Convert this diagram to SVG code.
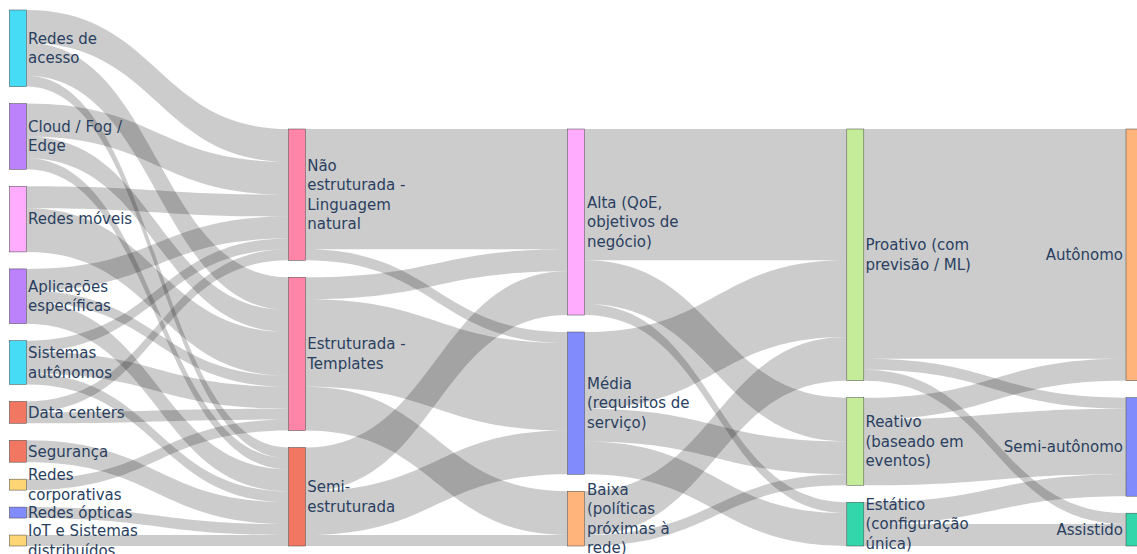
<svg xmlns="http://www.w3.org/2000/svg" width="1137" height="554" viewBox="0 0 1137 554">
  <style>
    .link { fill: rgba(0,0,0,0.2); }
    .node rect { stroke: #444; stroke-width: 0.5; fill-opacity: 0.8; }
    .node text { font-family: "DejaVu Sans", Verdana, sans-serif; font-size: 15px; fill: #2a3f5f; }
    .end text { text-anchor: end; }
    .c-cyan { fill: #19d3f3; }
    .c-purple { fill: #ab63fa; }
    .c-lpink { fill: #FF97FF; }
    .c-red { fill: #EF553B; }
    .c-yellow { fill: #FECB52; }
    .c-blue { fill: #636efa; }
    .c-pink { fill: #FF6692; }
    .c-orange { fill: #FFA15A; }
    .c-green { fill: #B6E880; }
    .c-teal { fill: #00cc96; }
  </style>
  <rect width="1137" height="554" fill="#ffffff"/>

  <g id="links">
    <!-- domain -> intent expression -->
    <path class="link" d="M26.4,10C157.45,10 157.45,129 288.5,129L288.5,161.83C157.45,161.83 157.45,42.83 26.4,42.83Z"/>
    <path class="link" d="M26.4,42.83C157.45,42.83 157.45,277.31 288.5,277.31L288.5,310.14C157.45,310.14 157.45,75.66 26.4,75.66Z"/>
    <path class="link" d="M26.4,75.66C157.45,75.66 157.45,447.51 288.5,447.51L288.5,458.46C157.45,458.46 157.45,86.6 26.4,86.6Z"/>
    <path class="link" d="M26.4,103.6C157.45,103.6 157.45,161.83 288.5,161.83L288.5,194.66C157.45,194.66 157.45,136.43 26.4,136.43Z"/>
    <path class="link" d="M26.4,136.43C157.45,136.43 157.45,310.14 288.5,310.14L288.5,332.03C157.45,332.03 157.45,158.31 26.4,158.31Z"/>
    <path class="link" d="M26.4,158.31C157.45,158.31 157.45,458.46 288.5,458.46L288.5,469.4C157.45,469.4 157.45,169.26 26.4,169.26Z"/>
    <path class="link" d="M26.4,186.26C157.45,186.26 157.45,194.66 288.5,194.66L288.5,216.54C157.45,216.54 157.45,208.14 26.4,208.14Z"/>
    <path class="link" d="M26.4,208.14C157.45,208.14 157.45,332.03 288.5,332.03L288.5,375.8C157.45,375.8 157.45,251.91 26.4,251.91Z"/>
    <path class="link" d="M26.4,268.91C157.45,268.91 157.45,216.54 288.5,216.54L288.5,238.43C157.45,238.43 157.45,290.8 26.4,290.8Z"/>
    <path class="link" d="M26.4,290.8C157.45,290.8 157.45,375.8 288.5,375.8L288.5,386.74C157.45,386.74 157.45,301.74 26.4,301.74Z"/>
    <path class="link" d="M26.4,301.74C157.45,301.74 157.45,469.4 288.5,469.4L288.5,491.29C157.45,491.29 157.45,323.63 26.4,323.63Z"/>
    <path class="link" d="M26.4,340.63C157.45,340.63 157.45,238.43 288.5,238.43L288.5,249.37C157.45,249.37 157.45,351.57 26.4,351.57Z"/>
    <path class="link" d="M26.4,351.57C157.45,351.57 157.45,386.74 288.5,386.74L288.5,408.63C157.45,408.63 157.45,373.46 26.4,373.46Z"/>
    <path class="link" d="M26.4,373.46C157.45,373.46 157.45,491.29 288.5,491.29L288.5,502.23C157.45,502.23 157.45,384.4 26.4,384.4Z"/>
    <path class="link" d="M26.4,401.4C157.45,401.4 157.45,249.37 288.5,249.37L288.5,260.31C157.45,260.31 157.45,412.34 26.4,412.34Z"/>
    <path class="link" d="M26.4,412.34C157.45,412.34 157.45,408.63 288.5,408.63L288.5,419.57C157.45,419.57 157.45,423.29 26.4,423.29Z"/>
    <path class="link" d="M26.4,440.29C157.45,440.29 157.45,502.23 288.5,502.23L288.5,524.11C157.45,524.11 157.45,462.17 26.4,462.17Z"/>
    <path class="link" d="M26.4,479.17C157.45,479.17 157.45,419.57 288.5,419.57L288.5,430.51C157.45,430.51 157.45,490.11 26.4,490.11Z"/>
    <path class="link" d="M26.4,507.11C157.45,507.11 157.45,524.11 288.5,524.11L288.5,535.06C157.45,535.06 157.45,518.06 26.4,518.06Z"/>
    <path class="link" d="M26.4,535.06C157.45,535.06 157.45,535.06 288.5,535.06L288.5,546C157.45,546 157.45,546 26.4,546Z"/>
    <!-- intent expression -> abstraction level -->
    <path class="link" d="M305.5,129C436.55,129 436.55,129 567.6,129L567.6,249.37C436.55,249.37 436.55,249.37 305.5,249.37Z"/>
    <path class="link" d="M305.5,249.37C436.55,249.37 436.55,332.03 567.6,332.03L567.6,342.97C436.55,342.97 436.55,260.31 305.5,260.31Z"/>
    <path class="link" d="M305.5,277.31C436.55,277.31 436.55,249.37 567.6,249.37L567.6,271.26C436.55,271.26 436.55,299.2 305.5,299.2Z"/>
    <path class="link" d="M305.5,299.2C436.55,299.2 436.55,342.97 567.6,342.97L567.6,430.51C436.55,430.51 436.55,386.74 305.5,386.74Z"/>
    <path class="link" d="M305.5,386.74C436.55,386.74 436.55,491.29 567.6,491.29L567.6,535.06C436.55,535.06 436.55,430.51 305.5,430.51Z"/>
    <path class="link" d="M305.5,447.51C436.55,447.51 436.55,271.26 567.6,271.26L567.6,315.03C436.55,315.03 436.55,491.29 305.5,491.29Z"/>
    <path class="link" d="M305.5,491.29C436.55,491.29 436.55,430.51 567.6,430.51L567.6,474.29C436.55,474.29 436.55,535.06 305.5,535.06Z"/>
    <path class="link" d="M305.5,535.06C436.55,535.06 436.55,535.06 567.6,535.06L567.6,546C436.55,546 436.55,546 305.5,546Z"/>
    <!-- abstraction level -> policy mode -->
    <path class="link" d="M584.6,129C715.7,129 715.7,129 846.8,129L846.8,260.31C715.7,260.31 715.7,260.31 584.6,260.31Z"/>
    <path class="link" d="M584.6,260.31C715.7,260.31 715.7,397.69 846.8,397.69L846.8,441.46C715.7,441.46 715.7,304.09 584.6,304.09Z"/>
    <path class="link" d="M584.6,304.09C715.7,304.09 715.7,502.23 846.8,502.23L846.8,513.17C715.7,513.17 715.7,315.03 584.6,315.03Z"/>
    <path class="link" d="M584.6,332.03C715.7,332.03 715.7,260.31 846.8,260.31L846.8,336.91C715.7,336.91 715.7,408.63 584.6,408.63Z"/>
    <path class="link" d="M584.6,408.63C715.7,408.63 715.7,441.46 846.8,441.46L846.8,474.29C715.7,474.29 715.7,441.46 584.6,441.46Z"/>
    <path class="link" d="M584.6,441.46C715.7,441.46 715.7,513.17 846.8,513.17L846.8,546C715.7,546 715.7,474.29 584.6,474.29Z"/>
    <path class="link" d="M584.6,491.29C715.7,491.29 715.7,336.91 846.8,336.91L846.8,380.69C715.7,380.69 715.7,535.06 584.6,535.06Z"/>
    <path class="link" d="M584.6,535.06C715.7,535.06 715.7,474.29 846.8,474.29L846.8,485.23C715.7,485.23 715.7,546 584.6,546Z"/>
    <!-- policy mode -> autonomy -->
    <path class="link" d="M863.8,129C994.9,129 994.9,129 1126,129L1126,358.8C994.9,358.8 994.9,358.8 863.8,358.8Z"/>
    <path class="link" d="M863.8,358.8C994.9,358.8 994.9,397.69 1126,397.69L1126,408.63C994.9,408.63 994.9,369.74 863.8,369.74Z"/>
    <path class="link" d="M863.8,369.74C994.9,369.74 994.9,513.17 1126,513.17L1126,524.11C994.9,524.11 994.9,380.69 863.8,380.69Z"/>
    <path class="link" d="M863.8,397.69C994.9,397.69 994.9,358.8 1126,358.8L1126,380.69C994.9,380.69 994.9,419.57 863.8,419.57Z"/>
    <path class="link" d="M863.8,419.57C994.9,419.57 994.9,408.63 1126,408.63L1126,474.29C994.9,474.29 994.9,485.23 863.8,485.23Z"/>
    <path class="link" d="M863.8,502.23C994.9,502.23 994.9,474.29 1126,474.29L1126,496.17C994.9,496.17 994.9,524.11 863.8,524.11Z"/>
    <path class="link" d="M863.8,524.11C994.9,524.11 994.9,524.11 1126,524.11L1126,546C994.9,546 994.9,546 863.8,546Z"/>
  </g>

  <!-- column 1: domains -->
  <g id="redes-acesso" class="node"><rect class="c-cyan" x="9.4" y="10" width="17" height="76.6"/>
    <text x="28"><tspan x="28" y="43.85">Redes de</tspan><tspan x="28" y="63.35">acesso</tspan></text></g>
  <g id="cloud-fog-edge" class="node"><rect class="c-purple" x="9.4" y="103.6" width="17" height="65.66"/>
    <text x="28"><tspan x="28" y="131.98">Cloud / Fog /</tspan><tspan x="28" y="151.48">Edge</tspan></text></g>
  <g id="redes-moveis" class="node"><rect class="c-lpink" x="9.4" y="186.26" width="17" height="65.66"/>
    <text x="28" y="224.39">Redes móveis</text></g>
  <g id="aplicacoes" class="node"><rect class="c-purple" x="9.4" y="268.91" width="17" height="54.71"/>
    <text x="28"><tspan x="28" y="291.82">Aplicações</tspan><tspan x="28" y="311.32">específicas</tspan></text></g>
  <g id="sistemas-autonomos" class="node"><rect class="c-cyan" x="9.4" y="340.63" width="17" height="43.77"/>
    <text x="28"><tspan x="28" y="358.06">Sistemas</tspan><tspan x="28" y="377.56">autônomos</tspan></text></g>
  <g id="data-centers" class="node"><rect class="c-red" x="9.4" y="401.4" width="17" height="21.89"/>
    <text x="28" y="417.64">Data centers</text></g>
  <g id="seguranca" class="node"><rect class="c-red" x="9.4" y="440.29" width="17" height="21.89"/>
    <text x="28" y="456.53">Segurança</text></g>
  <g id="redes-corporativas" class="node"><rect class="c-yellow" x="9.4" y="479.17" width="17" height="10.94"/>
    <text x="28"><tspan x="28" y="480.19">Redes</tspan><tspan x="28" y="499.69">corporativas</tspan></text></g>
  <g id="redes-opticas" class="node"><rect class="c-blue" x="9.4" y="507.11" width="17" height="10.94"/>
    <text x="28" y="517.89">Redes ópticas</text></g>
  <g id="iot" class="node"><rect class="c-yellow" x="9.4" y="535.06" width="17" height="10.94"/>
    <text x="28"><tspan x="28" y="536.08">IoT e Sistemas</tspan><tspan x="28" y="555.58">distribuídos</tspan></text></g>

  <!-- column 2: intent expression -->
  <g id="nao-estruturada" class="node"><rect class="c-pink" x="288.5" y="129" width="17" height="131.31"/>
    <text><tspan x="307.2" y="170.71">Não</tspan><tspan x="307.2" y="190.21">estruturada -</tspan><tspan x="307.2" y="209.71">Linguagem</tspan><tspan x="307.2" y="229.21">natural</tspan></text></g>
  <g id="estruturada" class="node"><rect class="c-pink" x="288.5" y="277.31" width="17" height="153.2"/>
    <text><tspan x="307.2" y="349.46">Estruturada -</tspan><tspan x="307.2" y="368.96">Templates</tspan></text></g>
  <g id="semi-estruturada" class="node"><rect class="c-red" x="288.5" y="447.51" width="17" height="98.49"/>
    <text><tspan x="307.2" y="492.31">Semi-</tspan><tspan x="307.2" y="511.81">estruturada</tspan></text></g>

  <!-- column 3: abstraction level -->
  <g id="alta" class="node"><rect class="c-lpink" x="567.6" y="129" width="17" height="186.03"/>
    <text><tspan x="587" y="207.81">Alta (QoE,</tspan><tspan x="587" y="227.31">objetivos de</tspan><tspan x="587" y="246.81">negócio)</tspan></text></g>
  <g id="media" class="node"><rect class="c-blue" x="567.6" y="332.03" width="17" height="142.26"/>
    <text><tspan x="587" y="388.96">Média</tspan><tspan x="587" y="408.46">(requisitos de</tspan><tspan x="587" y="427.96">serviço)</tspan></text></g>
  <g id="baixa" class="node"><rect class="c-orange" x="567.6" y="491.29" width="17" height="54.71"/>
    <text><tspan x="587" y="494.69">Baixa</tspan><tspan x="587" y="514.19">(políticas</tspan><tspan x="587" y="533.69">próximas à</tspan><tspan x="587" y="553.19">rede)</tspan></text></g>

  <!-- column 4: policy mode -->
  <g id="proativo" class="node"><rect class="c-green" x="846.8" y="129" width="17" height="251.69"/>
    <text><tspan x="865.4" y="250.39">Proativo (com</tspan><tspan x="865.4" y="269.89">previsão / ML)</tspan></text></g>
  <g id="reativo" class="node"><rect class="c-green" x="846.8" y="397.69" width="17" height="87.54"/>
    <text><tspan x="865.4" y="427.26">Reativo</tspan><tspan x="865.4" y="446.76">(baseado em</tspan><tspan x="865.4" y="466.26">eventos)</tspan></text></g>
  <g id="estatico" class="node"><rect class="c-teal" x="846.8" y="502.23" width="17" height="43.77"/>
    <text><tspan x="865.4" y="509.91">Estático</tspan><tspan x="865.4" y="529.41">(configuração</tspan><tspan x="865.4" y="548.91">única)</tspan></text></g>

  <!-- column 5: autonomy -->
  <g id="autonomo" class="node end"><rect class="c-orange" x="1126" y="129" width="17" height="251.69"/>
    <text x="1123" y="260.14">Autônomo</text></g>
  <g id="semi-autonomo" class="node end"><rect class="c-blue" x="1126" y="397.69" width="17" height="98.49"/>
    <text x="1123" y="452.23">Semi-autônomo</text></g>
  <g id="assistido" class="node end"><rect class="c-teal" x="1126" y="513.17" width="17" height="32.83"/>
    <text x="1123" y="534.89">Assistido</text></g>
</svg>
